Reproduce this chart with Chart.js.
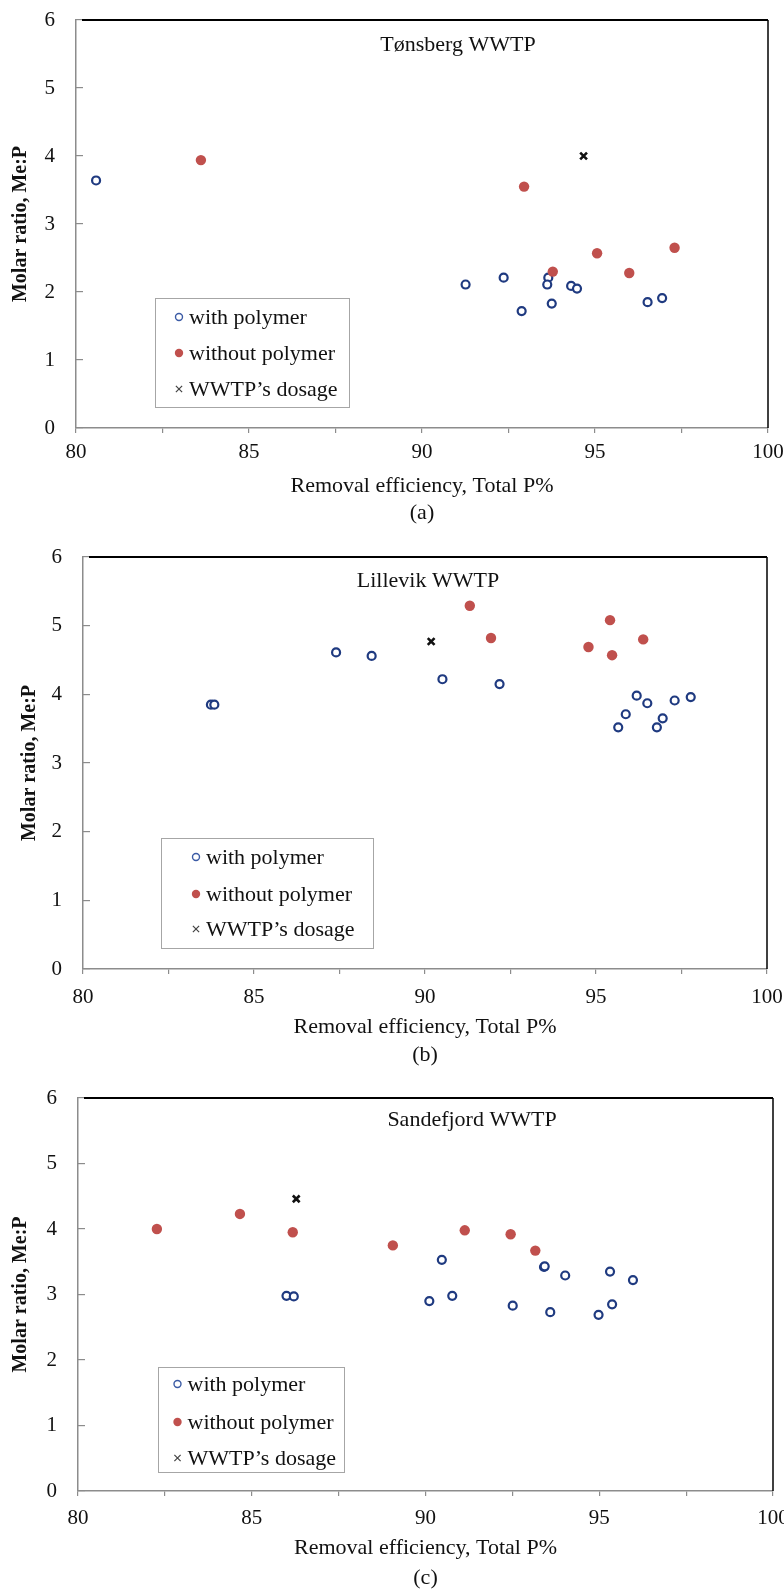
<!DOCTYPE html>
<html>
<head>
<meta charset="utf-8">
<script src="https://cdn.jsdelivr.net/npm/chart.js@4.4.0/dist/chart.umd.min.js"></script>
<style>
  html, body { margin: 0; padding: 0; background: #fff; }
  body { width: 784px; height: 1590px; position: relative; overflow: hidden; }
  .panel { position: absolute; left: 0; width: 784px; }
</style>
</head>
<body>
<div class="panel" style="top:0"><canvas id="chartA" width="784" height="530"></canvas></div>
<div class="panel" style="top:530px"><canvas id="chartB" width="784" height="540"></canvas></div>
<div class="panel" style="top:1070px"><canvas id="chartC" width="784" height="520"></canvas></div>

<script>
// ── Data: [removal efficiency %, molar ratio Me:P] ─────────────── //
const tonsbergWith    = [[80.58, 3.64], [91.26, 2.11], [92.36, 2.21], [93.65, 2.21], [93.62, 2.11], [94.31, 2.09],
                         [94.48, 2.05], [92.88, 1.72], [93.75, 1.83], [96.52, 1.85], [96.94, 1.91]];
const tonsbergWithout = [[83.61, 3.94], [92.95, 3.55], [93.78, 2.30], [95.06, 2.57], [95.99, 2.28], [97.30, 2.65]];
const tonsbergDosage  = [[94.67, 4.00]];

const lillevikWith    = [[83.74, 3.85], [83.84, 3.85], [87.40, 4.61], [88.44, 4.56], [90.51, 4.22], [92.18, 4.15],
                         [96.19, 3.98], [96.50, 3.87], [95.87, 3.71], [95.65, 3.52], [96.78, 3.52], [96.95, 3.65],
                         [97.30, 3.91], [97.77, 3.96]];
const lillevikWithout = [[91.31, 5.29], [91.93, 4.82], [95.41, 5.08], [94.78, 4.69], [95.47, 4.57], [96.38, 4.80]];
const lillevikDosage  = [[90.18, 4.77]];

const sandefjordWith    = [[86.00, 2.98], [86.21, 2.97], [90.11, 2.90], [90.77, 2.98], [90.47, 3.53], [92.51, 2.83],
                           [93.41, 3.42], [93.43, 3.43], [93.59, 2.73], [94.02, 3.29], [94.98, 2.69], [95.31, 3.35],
                           [95.37, 2.85], [95.97, 3.22]];
const sandefjordWithout = [[82.27, 4.00], [84.66, 4.23], [86.18, 3.95], [89.06, 3.75], [91.13, 3.98], [92.45, 3.92],
                           [93.16, 3.67]];
const sandefjordDosage  = [[86.28, 4.46]];

const seriesLabels = ['with polymer', 'without polymer', 'WWTP\u2019s dosage'];
const xTickLabels  = [80, 85, 90, 95, 100];
const yTickLabels  = [0, 1, 2, 3, 4, 5, 6];

const BLUE  = '#1f3a80';
const RED   = '#c0504d';
const AXIS  = '#8c8c8c';
const SERIF = "'Liberation Serif', 'Times New Roman', serif";

const toPoints = arr => arr.map(([x, y]) => ({ x, y }));

/**
 * Draws the black top/right frame, the plant name and the boxed legend
 * inside the plot area (positions are offsets from the chart area).
 */
const insetPlugin = {
  id: 'inset',
  afterDraw(chart, args, o) {
    const { ctx, chartArea: a } = chart;
    ctx.save();

    // top + right frame
    ctx.strokeStyle = '#000';
    ctx.lineWidth = 2;
    ctx.beginPath(); ctx.moveTo(a.left + 6, a.top); ctx.lineTo(a.right, a.top); ctx.stroke();
    ctx.lineWidth = 1.5;
    ctx.beginPath(); ctx.moveTo(a.right, a.top); ctx.lineTo(a.right, a.bottom); ctx.stroke();

    // plant name
    ctx.fillStyle = '#111';
    ctx.font = `22px ${SERIF}`;
    ctx.textAlign = 'center';
    ctx.textBaseline = 'middle';
    ctx.fillText(o.name, a.left + o.nameX, a.top + o.nameY);

    // legend box
    const bx = Math.round(a.left + o.boxX), by = Math.round(a.top + o.boxY);
    ctx.strokeStyle = '#a6a6a6';
    ctx.lineWidth = 1;
    ctx.strokeRect(bx + 0.5, by + 0.5, o.boxW, o.boxH);

    const marks = [
      { pointStyle: 'circle',   radius: 3.5, borderWidth: 1.4, stroke: '#3b5ba5', fill: '#fff' },
      { pointStyle: 'circle',   radius: 4.2, borderWidth: 0,   stroke: RED,       fill: RED },
      { pointStyle: 'crossRot', radius: 4.4, borderWidth: 1.2, stroke: '#444',    fill: '#444' },
    ];
    ctx.textAlign = 'left';
    chart.data.datasets.forEach((ds, i) => {
      const y = by + o.rows[i];
      const m = marks[i];
      ctx.fillStyle = m.fill;
      ctx.strokeStyle = m.stroke;
      ctx.lineWidth = m.borderWidth;
      Chart.helpers.drawPoint(ctx, m, bx + o.markerX, y);
      ctx.fillStyle = '#111';
      ctx.fillText(ds.label, bx + o.textX, y + 1);
    });
    ctx.restore();
  },
};

/**
 * Builds one scatter panel.
 * @param {string} id  canvas id
 * @param {Object} s   layout + data for the panel
 */
function makeChart(id, s) {
  const canvas = document.getElementById(id);
  const H = canvas.height;

  new Chart(canvas, {
    type: 'scatter',
    plugins: [insetPlugin],
    data: {
      datasets: [
        {
          label: seriesLabels[0],
          data: toPoints(s.withPolymer),
          pointStyle: 'circle',
          pointRadius: 4,
          borderWidth: 2.2,
          borderColor: BLUE,
          backgroundColor: '#fff',
          order: 3,
        },
        {
          label: seriesLabels[1],
          data: toPoints(s.withoutPolymer),
          pointStyle: 'circle',
          pointRadius: 5.2,
          borderWidth: 0,
          borderColor: RED,
          backgroundColor: RED,
          order: 2,
        },
        {
          label: seriesLabels[2],
          data: toPoints(s.dosage),
          pointStyle: 'crossRot',
          pointRadius: 4.8,
          borderWidth: 2.6,
          borderColor: '#111',
          backgroundColor: '#111',
          order: 1,
        },
      ],
    },
    options: {
      responsive: false,
      animation: false,
      events: [],
      layout: { padding: { top: s.plotTop, right: 784 - s.plotRight, left: 0, bottom: 0 } },
      plugins: {
        legend:  { display: false },
        tooltip: { enabled: false },
        inset: s.inset,
      },
      scales: {
        x: {
          type: 'linear',
          min: xTickLabels[0],
          max: xTickLabels[xTickLabels.length - 1],
          border: { color: AXIS, width: 1.5 },
          grid: { drawOnChartArea: false, drawTicks: true, tickLength: 5, color: AXIS, lineWidth: 1.2 },
          ticks: {
            stepSize: 2.5,
            padding: s.xTickPad,
            color: '#111',
            font: { family: SERIF, size: 21 },
            maxRotation: 0,
            callback: v => (xTickLabels.includes(v) ? String(v) : ''),
          },
          title: {
            display: true,
            text: ['Removal efficiency, Total P%', s.caption],
            color: '#111',
            font: { family: SERIF, size: 22, lineHeight: s.titleLH / 22 },
            padding: { top: 0, bottom: s.titlePadBottom },
          },
          afterFit(scale) {
            scale.height = H - s.plotBottom;
            scale.paddingLeft = 0;
            scale.paddingRight = 0;
          },
        },
        y: {
          type: 'linear',
          min: yTickLabels[0],
          max: yTickLabels[yTickLabels.length - 1],
          border: { color: AXIS, width: 1.5 },
          grid: { drawOnChartArea: false, drawTicks: true, tickLength: -7, color: AXIS, lineWidth: 1.2 },
          ticks: {
            stepSize: 1,
            padding: 28,
            color: '#111',
            font: { family: SERIF, size: 21 },
            callback: v => (yTickLabels.includes(v) ? String(v) : ''),
          },
          title: {
            display: true,
            text: 'Molar ratio, Me:P',
            color: '#111',
            font: { family: SERIF, size: 20, weight: 'bold' },
            padding: { top: s.yTitlePad, bottom: 0 },
          },
          afterFit(scale) {
            scale.width = s.plotLeft;
            scale.paddingTop = 0;
            scale.paddingBottom = 0;
          },
        },
      },
    },
  });
}

makeChart('chartA', {
  withPolymer: tonsbergWith, withoutPolymer: tonsbergWithout, dosage: tonsbergDosage,
  caption: '(a)',
  plotLeft: 76, plotRight: 768, plotTop: 20, plotBottom: 428,
  xTickPad: 7, titleLH: 27, titlePadBottom: 3.5, yTitlePad: 9,
  inset: { name: 'T\u00f8nsberg WWTP', nameX: 382, nameY: 25,
           boxX: 79, boxY: 278, boxW: 194, boxH: 109, rows: [19, 55, 91], markerX: 24, textX: 34 },
});

makeChart('chartB', {
  withPolymer: lillevikWith, withoutPolymer: lillevikWithout, dosage: lillevikDosage,
  caption: '(b)',
  plotLeft: 83, plotRight: 767, plotTop: 27, plotBottom: 439,
  xTickPad: 11, titleLH: 28, titlePadBottom: 1, yTitlePad: 18,
  inset: { name: 'Lillevik WWTP', nameX: 345, nameY: 24,
           boxX: 78, boxY: 281, boxW: 212, boxH: 110, rows: [19, 56, 91], markerX: 35, textX: 45 },
});

makeChart('chartC', {
  withPolymer: sandefjordWith, withoutPolymer: sandefjordWithout, dosage: sandefjordDosage,
  caption: '(c)',
  plotLeft: 78, plotRight: 773, plotTop: 28, plotBottom: 421,
  xTickPad: 10, titleLH: 30, titlePadBottom: -3, yTitlePad: 9,
  inset: { name: 'Sandefjord WWTP', nameX: 394, nameY: 22,
           boxX: 80, boxY: 269, boxW: 186, boxH: 105, rows: [17, 55, 91], markerX: 19.5, textX: 29.5 },
});
</script>
</body>
</html>
